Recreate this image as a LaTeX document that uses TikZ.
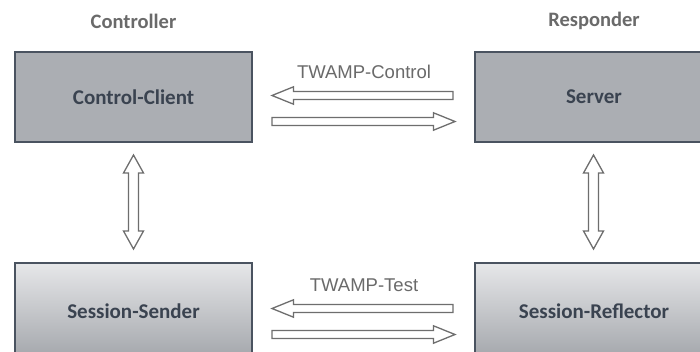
\documentclass[tikz,border=0pt]{standalone}
\usepackage{fontspec}
\setmainfont{Carlito}
\newfontfamily\lblfont{Liberation Sans}
\usetikzlibrary{calc}
\definecolor{boxfill}{HTML}{ABAEB3}
\definecolor{boxedge}{HTML}{4A5360}
\definecolor{boxtext}{HTML}{3A4350}
\definecolor{headtext}{HTML}{6A6A6A}
\definecolor{arrowedge}{HTML}{6E6E6E}
\definecolor{shadetop}{HTML}{E6E7E9}
\definecolor{shadebot}{HTML}{A3A6AB}
\tikzset{
  box/.style={draw=boxedge, line width=1.4pt, minimum width=237pt, minimum height=90pt, inner sep=0pt,
    font=\fontsize{21}{25}\selectfont\bfseries, text=boxtext},
  topbox/.style={box, fill=boxfill},
  botbox/.style={box, top color=shadetop, bottom color=shadebot, minimum height=96pt},
  head/.style={font=\fontsize{20.5}{24}\selectfont\bfseries, text=headtext},
  twlabel/.style={font=\lblfont\fontsize{18.5}{22}\selectfont, text=headtext},
  blockarrow/.style={draw=arrowedge, fill=white, line width=1.3pt, line join=miter},
}
\begin{document}
\begin{tikzpicture}[x=1pt,y=-1pt]
\clip (0,0) rectangle (700,351);
\fill[white] (0,0) rectangle (700,351);
% headers
\node[head] (hctl) at (133.5,21) {Controller};
\node[head] (hrsp) at (594,21) {Responder};
% boxes
\node[topbox] (cc) at (133.5,97) {Control-Client};
\node[topbox, minimum width=238pt] (srv) at (594,97) {Server};
\node[botbox] (ss) at (133.5,311) {Session-Sender};
\node[botbox, minimum width=238pt] (sr) at (594,311) {Session-Reflector};
% labels
\node[twlabel] (lctl) at (364,72) {TWAMP-Control};
\node[twlabel] (ltst) at (364,285) {TWAMP-Test};
% horizontal block arrows (control)
\draw[blockarrow] (272,95.5) -- (293.5,86.8) -- (293.5,91.5) -- (453,91.5) -- (453,99.5) -- (293.5,99.5) -- (293.5,104.2) -- cycle;
\draw[blockarrow] (455,121.5) -- (433.5,112.8) -- (433.5,117.5) -- (272,117.5) -- (272,125.5) -- (433.5,125.5) -- (433.5,130.2) -- cycle;
% horizontal block arrows (test)
\draw[blockarrow] (272,308.5) -- (293.5,299.8) -- (293.5,304.5) -- (453,304.5) -- (453,312.5) -- (293.5,312.5) -- (293.5,317.2) -- cycle;
\draw[blockarrow] (455,334.5) -- (433.5,325.8) -- (433.5,330.5) -- (272,330.5) -- (272,338.5) -- (433.5,338.5) -- (433.5,343.2) -- cycle;
% vertical double block arrows
\foreach \cx in {133.5,593.5}{
\draw[blockarrow] (\cx,155) -- (\cx+10,173) -- (\cx+5,173) -- (\cx+5,231) -- (\cx+10,231) -- (\cx,249) -- (\cx-10,231) -- (\cx-5,231) -- (\cx-5,173) -- (\cx-10,173) -- cycle;
}
\end{tikzpicture}
\end{document}
